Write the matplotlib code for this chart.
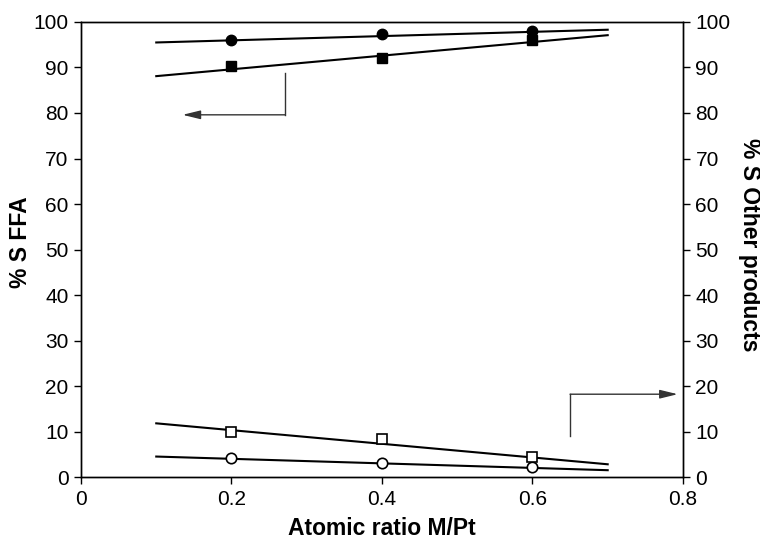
import numpy as np
import matplotlib
matplotlib.use("Agg")
import matplotlib.pyplot as plt
from matplotlib.patches import FancyArrowPatch

plt.rcParams['font.family'] = ['Liberation Sans', 'DejaVu Sans']

# Data
ratio = [0.2, 0.4, 0.6]
ffa_a = [96.1, 97.3, 98.1]      # filled circles
ffa_b = [90.4, 92.0, 96.0]      # filled squares
other_a = [4.2, 3.0, 2.1]       # open circles
other_b = [10.0, 8.3, 4.3]      # open squares

# Trend lines (end points)
fit_x = [0.1, 0.7]
ffa_a_fit = [95.5, 98.3]
ffa_b_fit = [88.1, 97.1]
other_a_fit = [4.5, 1.5]
other_b_fit = [11.8, 2.8]

x_ticks = [0, 0.2, 0.4, 0.6, 0.8]
x_ticklabels = ["0", "0.2", "0.4", "0.6", "0.8"]
y_ticks = list(range(0, 101, 10))

fig = plt.figure(figsize=(7.6, 5.43), dpi=100)
ax = fig.add_axes([0.1066, 0.1215, 0.792, 0.838])
ax2 = ax.twinx()

ms = 7.5
ax.plot(fit_x, ffa_a_fit, color='black', lw=1.5)
ax.plot(fit_x, ffa_b_fit, color='black', lw=1.5)
ax.plot(ratio, ffa_a, 'o', color='black', ms=ms)
ax.plot(ratio, ffa_b, 's', color='black', ms=ms)

ax2.plot(fit_x, other_a_fit, color='black', lw=1.5)
ax2.plot(fit_x, other_b_fit, color='black', lw=1.5)
ax2.plot(ratio, other_a, 'o', mfc='white', mec='black', mew=1.2, ms=ms)
ax2.plot(ratio, other_b, 's', mfc='white', mec='black', mew=1.2, ms=ms)

for a in (ax, ax2):
    a.set_xlim(0, 0.8)
    a.set_ylim(0, 100)
    a.set_yticks(y_ticks)
    a.tick_params(direction='out', length=5, width=1, labelsize=15, pad=4)
    for s in a.spines.values():
        s.set_linewidth(1)
ax.set_xticks(x_ticks)
ax.set_xticklabels(x_ticklabels)

ax.set_xlabel("Atomic ratio M/Pt", fontsize=16.5, fontweight='bold', labelpad=6)
ax.set_ylabel("% S FFA", fontsize=16.5, fontweight='bold', va='center')
ax.yaxis.set_label_coords(-0.101, 0.516)
ax2.set_ylabel("% S Other products", fontsize=16.5, fontweight='bold',
               rotation=270, va='center')
ax2.yaxis.set_label_coords(1.11, 0.51)

acol = '#333333'
astyle = '-|>,head_length=0.9,head_width=0.22'
# left-pointing arrow (FFA axis)
ax.plot([0.2715, 0.2715], [88.7, 79.6], color=acol, lw=1)
ax.add_patch(FancyArrowPatch((0.2715, 79.6), (0.135, 79.6),
                             arrowstyle=astyle, mutation_scale=12,
                             color=acol, lw=1, shrinkA=0, shrinkB=0))
# right-pointing arrow (other products axis)
ax.plot([0.65, 0.65], [9.1, 18.2], color=acol, lw=1)
ax.add_patch(FancyArrowPatch((0.65, 18.2), (0.793, 18.2),
                             arrowstyle=astyle, mutation_scale=12,
                             color=acol, lw=1, shrinkA=0, shrinkB=0))

fig.savefig("out.png", dpi=100)
